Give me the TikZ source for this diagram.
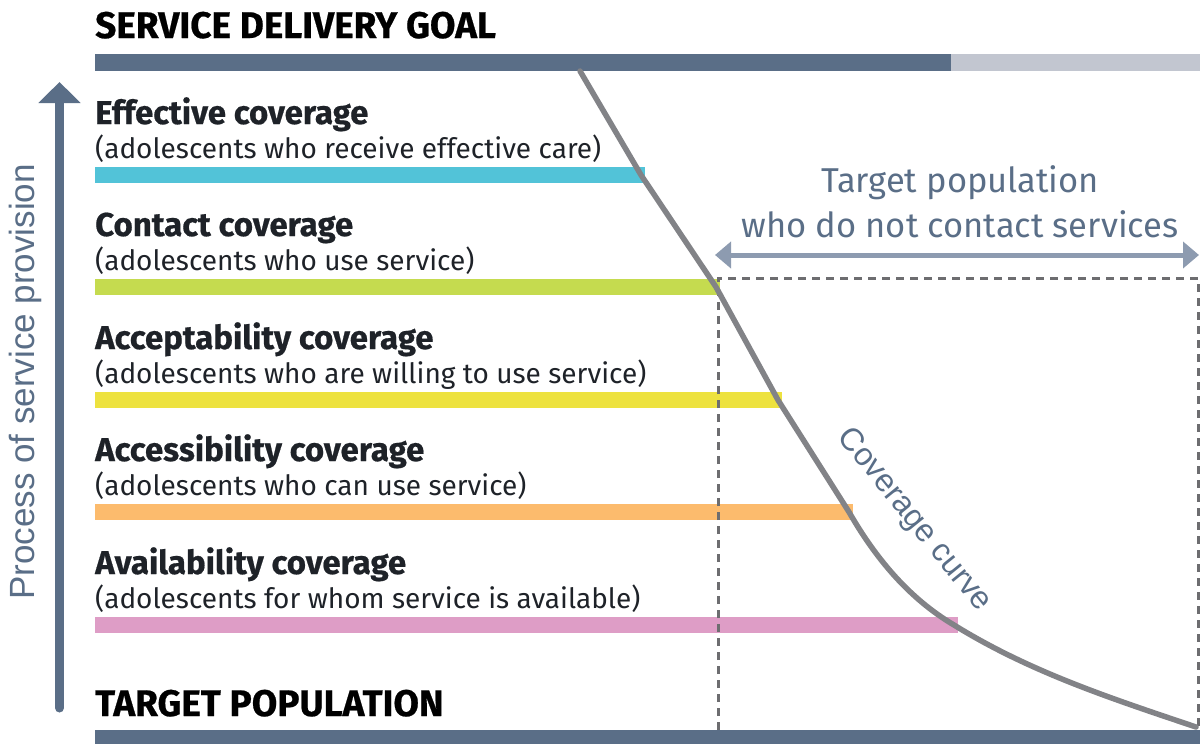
\documentclass[tikz,border=0pt]{standalone}
\usepackage{fontspec}
\setmainfont{Fira Sans}[BoldFeatures={FakeBold=0.6}]
\newfontfamily\helv{Liberation Sans}
\usetikzlibrary{arrows.meta}
\definecolor{slate}{HTML}{5A6E87}
\definecolor{paleslate}{HTML}{C2C6D0}
\definecolor{arrowgrey}{HTML}{8D9BB0}
\definecolor{curvegrey}{HTML}{828387}
\definecolor{dashgrey}{HTML}{6D6D70}
\definecolor{inkdark}{HTML}{1E2228}
\definecolor{barcyan}{HTML}{52C3D8}
\definecolor{bargreen}{HTML}{C5DB4F}
\definecolor{baryellow}{HTML}{EDE23F}
\definecolor{barorange}{HTML}{FCBB6D}
\definecolor{barpink}{HTML}{DE9DC6}
\tikzset{
  caps/.style={anchor=base west,inner sep=0,text=black,font=\bfseries\fontsize{37}{37}\selectfont},
  head/.style={anchor=base west,inner sep=0,text=inkdark,font=\bfseries\fontsize{33}{33}\selectfont},
  sub/.style={anchor=base west,inner sep=0,text=inkdark,font=\fontsize{28}{28}\selectfont},
  note/.style={inner sep=0,text=slate,font=\fontsize{34.5}{34.5}\selectfont},
  curve/.style={curvegrey,line width=5.5pt,line join=round,line cap=round}
}
\begin{document}
\begin{tikzpicture}[x=1pt,y=-1pt]
\useasboundingbox(0,0)rectangle(1200,744);
% top and bottom bars
\fill[slate](95,54)rectangle(951,71);
\fill[paleslate](951,54)rectangle(1200,71);
\fill[slate](95,730)rectangle(1200,744);
\node[caps](goal)at(95,38){SERVICE DELIVERY GOAL};
\node[caps](target)at(95,716){TARGET POPULATION};
% process arrow
\coordinate(pbot)at(59.5,708);
\coordinate(ptop)at(59.5,82);
\draw[slate,line width=9pt,line cap=round,-{Triangle[length=21pt,width=41pt,line cap=butt]}](pbot)--(ptop);
\node[rotate=90,inner sep=0,text=slate,font=\helv\fontsize{35}{35}\selectfont](process)at(25,382){Process of service provision};
% coverage levels
\foreach \n/\yy/\xe/\col/\title/\desc in {
  1/124/645/barcyan/Effective coverage/adolescents who receive effective care,
  2/236/720/bargreen/Contact coverage/adolescents who use service,
  3/349/782/baryellow/Acceptability coverage/adolescents who are willing to use service,
  4/461/853/barorange/Accessibility coverage/adolescents who can use service,
  5/574/958/barpink/Availability coverage/adolescents for whom service is available}{
  \node[head](h\n)at(95,\yy){\title};
  \node[sub](s\n)at(95,\yy+34){(\desc)};
  \fill[\col](95,\yy+43)rectangle(\xe,\yy+59);
  \coordinate(e\n)at(\xe-4,\yy+51);
}
% non contacting population
\draw[dashgrey,line width=3pt,dash pattern=on 8pt off 6pt](718,730)--(718,278)--(1198,278)--(1198,730);
\coordinate(nl)at(715,255);
\coordinate(nr)at(1199,255);
\draw[arrowgrey,line width=5pt,{Triangle[length=16pt,width=26pt]}-{Triangle[length=16pt,width=26pt]}](nl)--(nr);
\node[note](t1)at(960,183){Target population};
\node[note](t2)at(960,224){who do not contact services};
% coverage curve
\draw[curve](580,71)--(e1)--(e2)--(e3)--(e4)..controls(880,566)and(915,602)..(e5)..controls(1030,672)and(1110,698)..(1196,727);
\node[rotate=-51,inner sep=0,text=slate,font=\helv\fontsize{32}{32}\selectfont](cc)at(914,520){Coverage curve};
\end{tikzpicture}
\end{document}
